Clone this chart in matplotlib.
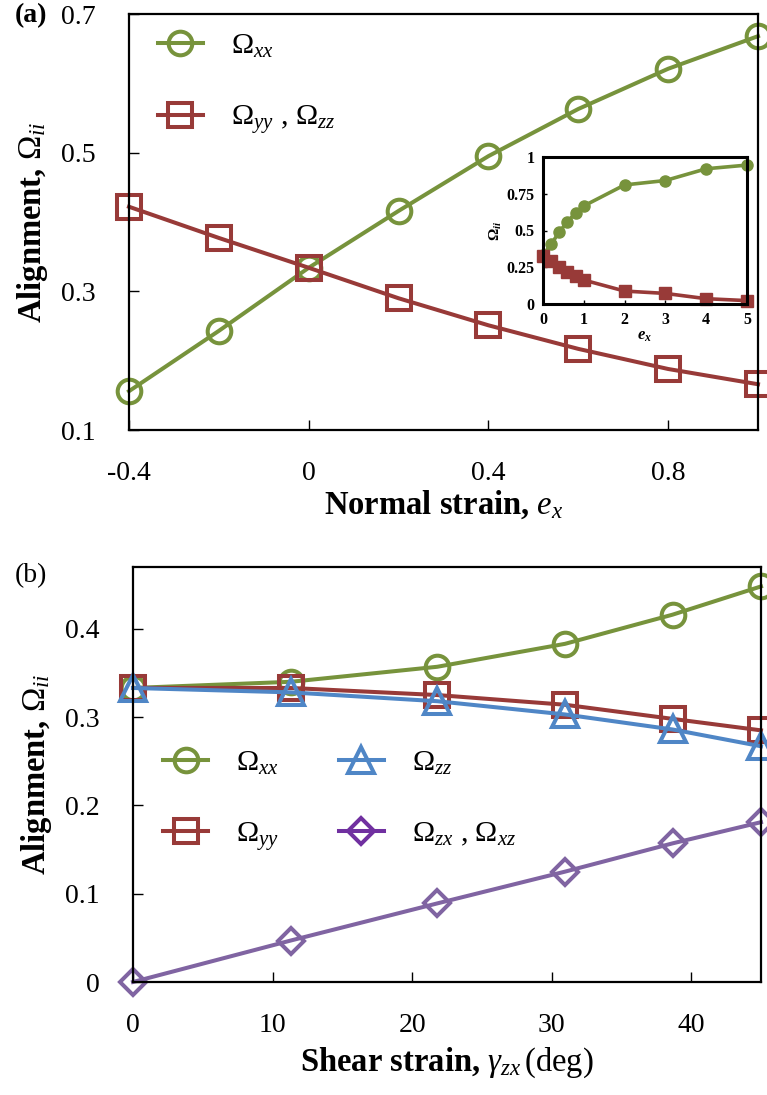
import matplotlib
matplotlib.use('Agg')
import matplotlib.pyplot as plt

# フォント設定（Times風）
plt.rcParams['font.family'] = ['Liberation Serif', 'DejaVu Serif']
plt.rcParams['mathtext.fontset'] = 'custom'
plt.rcParams['mathtext.rm'] = 'Liberation Serif'
plt.rcParams['mathtext.it'] = 'Liberation Serif:italic'
plt.rcParams['mathtext.bf'] = 'Liberation Serif:bold'
plt.rcParams['mathtext.bfit'] = 'Liberation Serif:bold:italic'

# 色
GREEN = '#77933C'
RED = '#983A38'
BLUE = '#4F86C6'
PURPLE = '#8064A2'
PURPLE_LEG = '#7030A0'

# (a) 垂直ひずみ
ex = [-0.4, -0.2, 0.0, 0.2, 0.4, 0.6, 0.8, 1.0]
a_xx = [0.156, 0.243, 0.334, 0.416, 0.495, 0.563, 0.621, 0.668]
a_yy = [0.422, 0.377, 0.334, 0.290, 0.251, 0.217, 0.188, 0.166]
a_xticks = [-0.4, 0.0, 0.4, 0.8]
a_xlabels = ['-0.4', '0', '0.4', '0.8']
a_yticks = [0.1, 0.3, 0.5, 0.7]
a_ylabels = ['0.1', '0.3', '0.5', '0.7']

# 挿入図
ins_ex = [0.0, 0.2, 0.4, 0.6, 0.8, 1.0, 2.0, 3.0, 4.0, 5.0]
ins_xx = [0.333, 0.407, 0.49, 0.56, 0.62, 0.667, 0.81, 0.84, 0.92, 0.945]
ins_yy = [0.328, 0.294, 0.253, 0.215, 0.19, 0.163, 0.088, 0.072, 0.036, 0.023]
ins_xticks = [0, 1, 2, 3, 4, 5]
ins_yticks = [0, 0.25, 0.5, 0.75, 1]
ins_ylabels = ['0', '0.25', '0.5', '0.75', '1']

# (b) せん断ひずみ
gzx = [0.0, 11.31, 21.80, 30.96, 38.66, 45.0]
b_xx = [0.333, 0.340, 0.357, 0.383, 0.416, 0.448]
b_yy = [0.333, 0.333, 0.325, 0.314, 0.298, 0.285]
b_zz = [0.333, 0.328, 0.318, 0.303, 0.286, 0.267]
b_zx = [0.0, 0.047, 0.089, 0.125, 0.157, 0.181]
b_xticks = [0, 10, 20, 30, 40]
b_yticks = [0, 0.1, 0.2, 0.3, 0.4]
b_ylabels = ['0', '0.1', '0.2', '0.3', '0.4']

fig = plt.figure(figsize=(7.67, 10.95), dpi=100)
W, H = 767, 1095

ax1 = fig.add_axes([129 / W, 1 - 430 / H, 629 / W, 416 / H])
ax2 = fig.add_axes([133 / W, 1 - 982 / H, 628 / W, 415 / H])
axi = fig.add_axes([543 / W, 1 - 304 / H, 204 / W, 147 / H])

lw = 2.9
mew = 2.9
ms = 17

def style(ax):
    for s in ax.spines.values():
        s.set_linewidth(1.6)
    ax.tick_params(direction='in', length=7, width=1.0, labelsize=20,
                   top=False, right=False)
    ax.tick_params(axis='x', pad=22)
    ax.tick_params(axis='y', pad=24)

# ---- (a)
ax1.plot(ex, a_xx, color=GREEN, lw=lw, marker='o', ms=ms, mfc='none',
         mew=mew, clip_on=False, label=r'$\Omega_{xx}$')
ax1.plot(ex, a_yy, color=RED, lw=lw, marker='s', ms=ms, mfc='none',
         mew=mew, clip_on=False, label=r'$\Omega_{yy}$ , $\Omega_{zz}$')
ax1.set_xlim(-0.4, 1.0)
ax1.set_ylim(0.1, 0.7)
ax1.set_xticks(a_xticks, a_xlabels)
ax1.set_yticks(a_yticks, a_ylabels)
style(ax1)
ax1.set_xlabel(r'Normal strain, $e_x$', fontsize=23.5, fontweight='bold', labelpad=2)
ax1.set_ylabel(r'Alignment, $\Omega_{ii}$', fontsize=23.5, fontweight='bold', labelpad=8)
ax1.legend(loc='upper left', bbox_to_anchor=(0.046, 0.955), borderaxespad=0,
           borderpad=0, frameon=False, fontsize=21.5, handlelength=1.5,
           handletextpad=0.95, labelspacing=1.45, numpoints=1)
fig.text(15 / W, 1 - 16 / H, '(a)', fontsize=20, fontweight='bold', va='center')

# ---- 挿入図
axi.plot(ins_ex, ins_xx, color=GREEN, lw=2.6, marker='o', ms=8, clip_on=False)
axi.plot(ins_ex, ins_yy, color=RED, lw=2.6, marker='s', ms=8, clip_on=False)
axi.set_xlim(0, 5)
axi.set_ylim(0, 1)
axi.set_xticks(ins_xticks)
axi.set_yticks(ins_yticks, ins_ylabels)
for s in axi.spines.values():
    s.set_linewidth(2.2)
axi.tick_params(direction='in', length=3, width=1.0, labelsize=11.5, pad=6,
                top=False, right=False)
for t in axi.get_xticklabels() + axi.get_yticklabels():
    t.set_fontweight('bold')
axi.set_xlabel(r'$\mathbfit{e}_\mathbfit{x}$', fontsize=12, labelpad=0)
axi.set_ylabel(r'$\mathbf{\Omega}_\mathbfit{ii}$', fontsize=11, labelpad=2)

# ---- (b)
ax2.plot(gzx, b_xx, color=GREEN, lw=lw, marker='o', ms=ms, mfc='none',
         mew=mew, clip_on=False, label=r'$\Omega_{xx}$')
ax2.plot(gzx, b_yy, color=RED, lw=lw, marker='s', ms=ms, mfc='none',
         mew=mew, clip_on=False, label=r'$\Omega_{yy}$')
ax2.plot(gzx, b_zz, color=BLUE, lw=lw, marker='^', ms=ms + 2, mfc='none',
         mew=mew, clip_on=False, label=r'$\Omega_{zz}$')
ax2.plot(gzx, b_zx, color=PURPLE, lw=lw, marker='D', ms=13.5, mfc='none',
         mew=mew, clip_on=False, label=r'$\Omega_{zx}$ , $\Omega_{xz}$')
ax2.set_xlim(0, 45)
ax2.set_ylim(0, 0.47)
ax2.set_xticks(b_xticks)
ax2.set_yticks(b_yticks, b_ylabels)
style(ax2)
ax2.set_xlabel(r'Shear strain, $\gamma_{zx}\,\mathrm{(deg)}$', fontsize=23.5,
               fontweight='bold', labelpad=6)
ax2.set_ylabel(r'Alignment, $\Omega_{ii}$', fontsize=23.5, fontweight='bold', labelpad=8)
leg = ax2.legend(loc='upper left', bbox_to_anchor=(0.048, 0.56), borderaxespad=0,
                 borderpad=0, frameon=False, fontsize=21.5, ncol=2, handlelength=1.5,
                 handletextpad=0.95, labelspacing=1.45, columnspacing=2.0,
                 numpoints=1)
leg.legend_handles[3].set_color(PURPLE_LEG)
fig.text(15 / W, 1 - 576 / H, '(b)', fontsize=20, va='center')

fig.savefig('out.png', dpi=100)
